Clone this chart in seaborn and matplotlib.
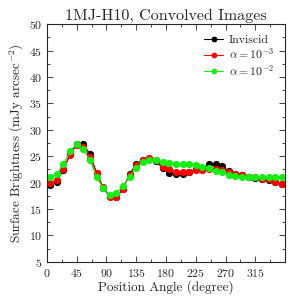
import numpy as np
import pandas as pd
import seaborn as sns
import matplotlib
matplotlib.use('Agg')
import matplotlib.pyplot as plt
from matplotlib.ticker import MultipleLocator

# position angle (degree), every 10 deg
angle = np.arange(5, 360, 10)

inviscid = [19.5, 20.2, 22.4, 25.4, 27.4, 27.3, 25.4, 21.9, 19.0, 17.4, 17.3, 18.8,
            21.6, 23.5, 24.3, 24.4, 24.1, 22.7, 21.8, 21.6, 21.6, 22.1, 22.5, 22.7,
            23.5, 23.5, 23.1, 22.2, 21.7, 21.5, 21.1, 20.8, 20.6, 20.5, 20.2, 19.7]
alpha_m3 = [19.9, 20.5, 22.5, 25.2, 27.1, 26.8, 24.9, 21.8, 19.1, 17.3, 17.2, 18.8,
            21.5, 23.3, 24.3, 24.6, 24.2, 22.9, 22.5, 22.1, 22.1, 22.1, 22.4, 22.3,
            22.5, 22.5, 22.4, 22.0, 21.7, 21.5, 21.1, 21.0, 20.7, 20.6, 20.2, 19.7]
alpha_m2 = [21.0, 21.6, 23.5, 25.9, 27.3, 26.3, 24.2, 21.1, 18.9, 17.7, 18.0, 19.4,
            21.0, 22.8, 23.9, 24.3, 24.2, 23.9, 23.8, 23.6, 23.6, 23.5, 23.4, 22.9,
            22.7, 22.2, 22.0, 21.5, 21.3, 21.1, 21.0, 21.1, 21.0, 21.1, 21.1, 21.1]

labels = ['Inviscid', r'$\alpha=10^{-3}$', r'$\alpha=10^{-2}$']
colors = ['black', 'red', '#11f011']

df = pd.concat([
    pd.DataFrame({'angle': angle, 'sb': vals, 'model': lab})
    for vals, lab in zip([inviscid, alpha_m3, alpha_m2], labels)
])

sns.set_style('ticks')
plt.rcParams['font.family'] = ['cmr10', 'DejaVu Serif']
plt.rcParams['mathtext.fontset'] = 'cm'
plt.rcParams['axes.formatter.use_mathtext'] = True
plt.rcParams['axes.unicode_minus'] = False

fig = plt.figure(figsize=(2.93, 3.01), dpi=100)
ax = fig.add_axes([0.160, 0.130, 0.813, 0.790])

sns.lineplot(data=df, x='angle', y='sb', hue='model', hue_order=labels,
             palette=colors, marker='o', markersize=5.2, markeredgewidth=0,
             linewidth=0.8, ax=ax)

ax.set_xlim(0, 360)
ax.set_ylim(5, 50)
ax.xaxis.set_major_locator(MultipleLocator(45))
ax.xaxis.set_minor_locator(MultipleLocator(22.5))
ax.yaxis.set_major_locator(MultipleLocator(5))
ax.yaxis.set_minor_locator(MultipleLocator(2.5))
ax.set_xticks([0, 45, 90, 135, 180, 225, 270, 315])
ax.tick_params(which='both', direction='in', top=True, right=True, labelsize=8.5)
ax.tick_params(which='major', length=4, width=0.6)
ax.tick_params(which='minor', length=2, width=0.6)
for s in ax.spines.values():
    s.set_linewidth(0.8)

ax.set_xlabel('Position Angle (degree)', fontsize=9.5, labelpad=1)
ax.set_ylabel(r'Surface Brightness (mJy arcsec$^{-2}$)', fontsize=9.5, labelpad=2)
ax.set_title('1MJ-H10, Convolved Images', fontsize=11.5, pad=3)

leg = ax.legend(loc='upper right', frameon=False, fontsize=8.5, handlelength=1.6,
                handletextpad=0.5, labelspacing=0.12, borderaxespad=0.5,
                markerscale=0.8)

fig.savefig('out.png', dpi=100)
